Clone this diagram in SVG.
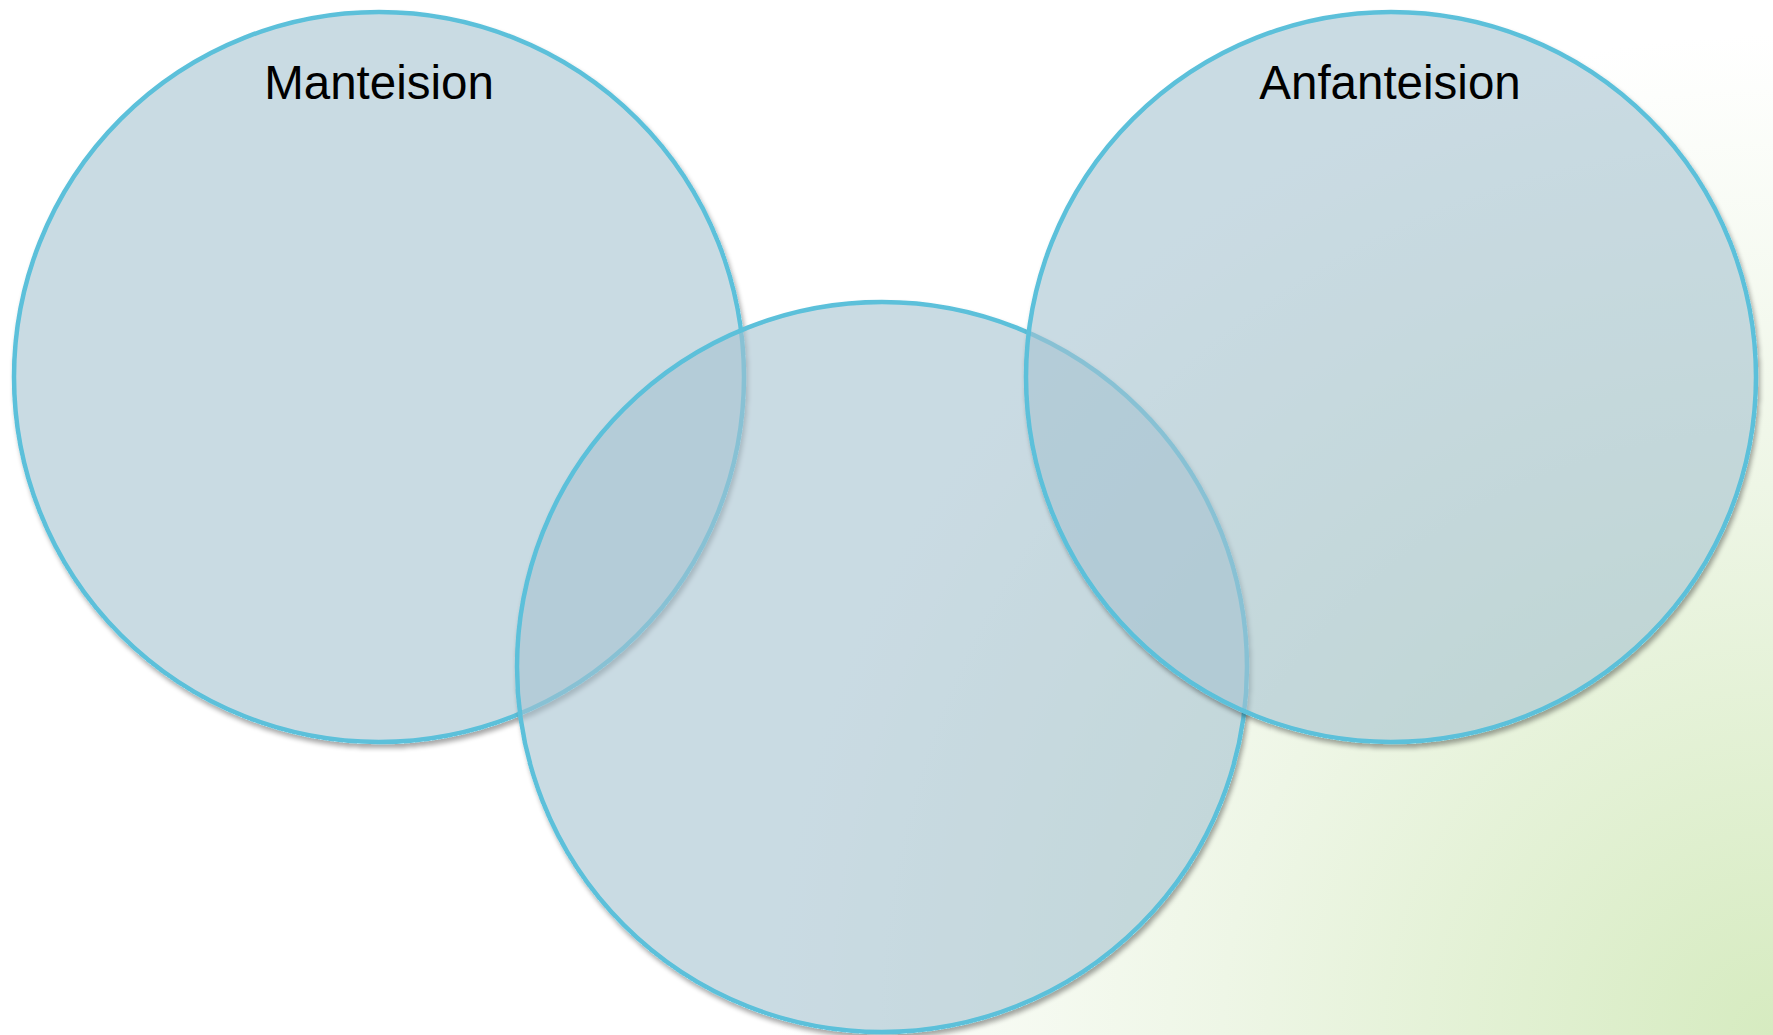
<svg xmlns="http://www.w3.org/2000/svg" width="1773" height="1035" viewBox="0 0 1773 1035">
<defs>
<radialGradient id="bg" cx="1773" cy="1035" r="1000" gradientUnits="userSpaceOnUse">
<stop offset="0" stop-color="#d6ebc0"/>
<stop offset="0.55" stop-color="#eef6e6"/>
<stop offset="1" stop-color="#ffffff"/>
</radialGradient>
<filter id="sh" x="-10%" y="-10%" width="120%" height="120%">
<feComponentTransfer in="SourceAlpha" result="solid"><feFuncA type="discrete" tableValues="0 1"/></feComponentTransfer>
<feGaussianBlur in="solid" stdDeviation="2.5"/>
<feOffset dx="2" dy="4" result="off"/>
<feComponentTransfer in="off" result="soft"><feFuncA type="linear" slope="0.35"/></feComponentTransfer>
<feComposite in="soft" in2="solid" operator="out" result="outer"/>
<feMerge><feMergeNode in="outer"/><feMergeNode in="SourceGraphic"/></feMerge>
</filter>
</defs>
<style>
.c{fill:#a5c3d0;fill-opacity:0.6;stroke:#5bc0da;stroke-width:4.5;filter:url(#sh)}
.t{font-family:"Liberation Sans",Arial,sans-serif;font-size:47.5px;fill:#000;text-anchor:middle}
</style>
<rect width="1773" height="1035" fill="url(#bg)"/>
<g id="manteision">
<circle class="c" cx="379" cy="377" r="365"/>
</g>
<g id="middle">
<circle class="c" cx="882" cy="667" r="365"/>
</g>
<g id="anfanteision">
<circle class="c" cx="1391" cy="377" r="365"/>
</g>
<g id="labels">
<text class="t" x="379" y="99">Manteision</text>
<text class="t" x="1390" y="99">Anfanteision</text>
</g>
<g id="connectors"/>
</svg>
